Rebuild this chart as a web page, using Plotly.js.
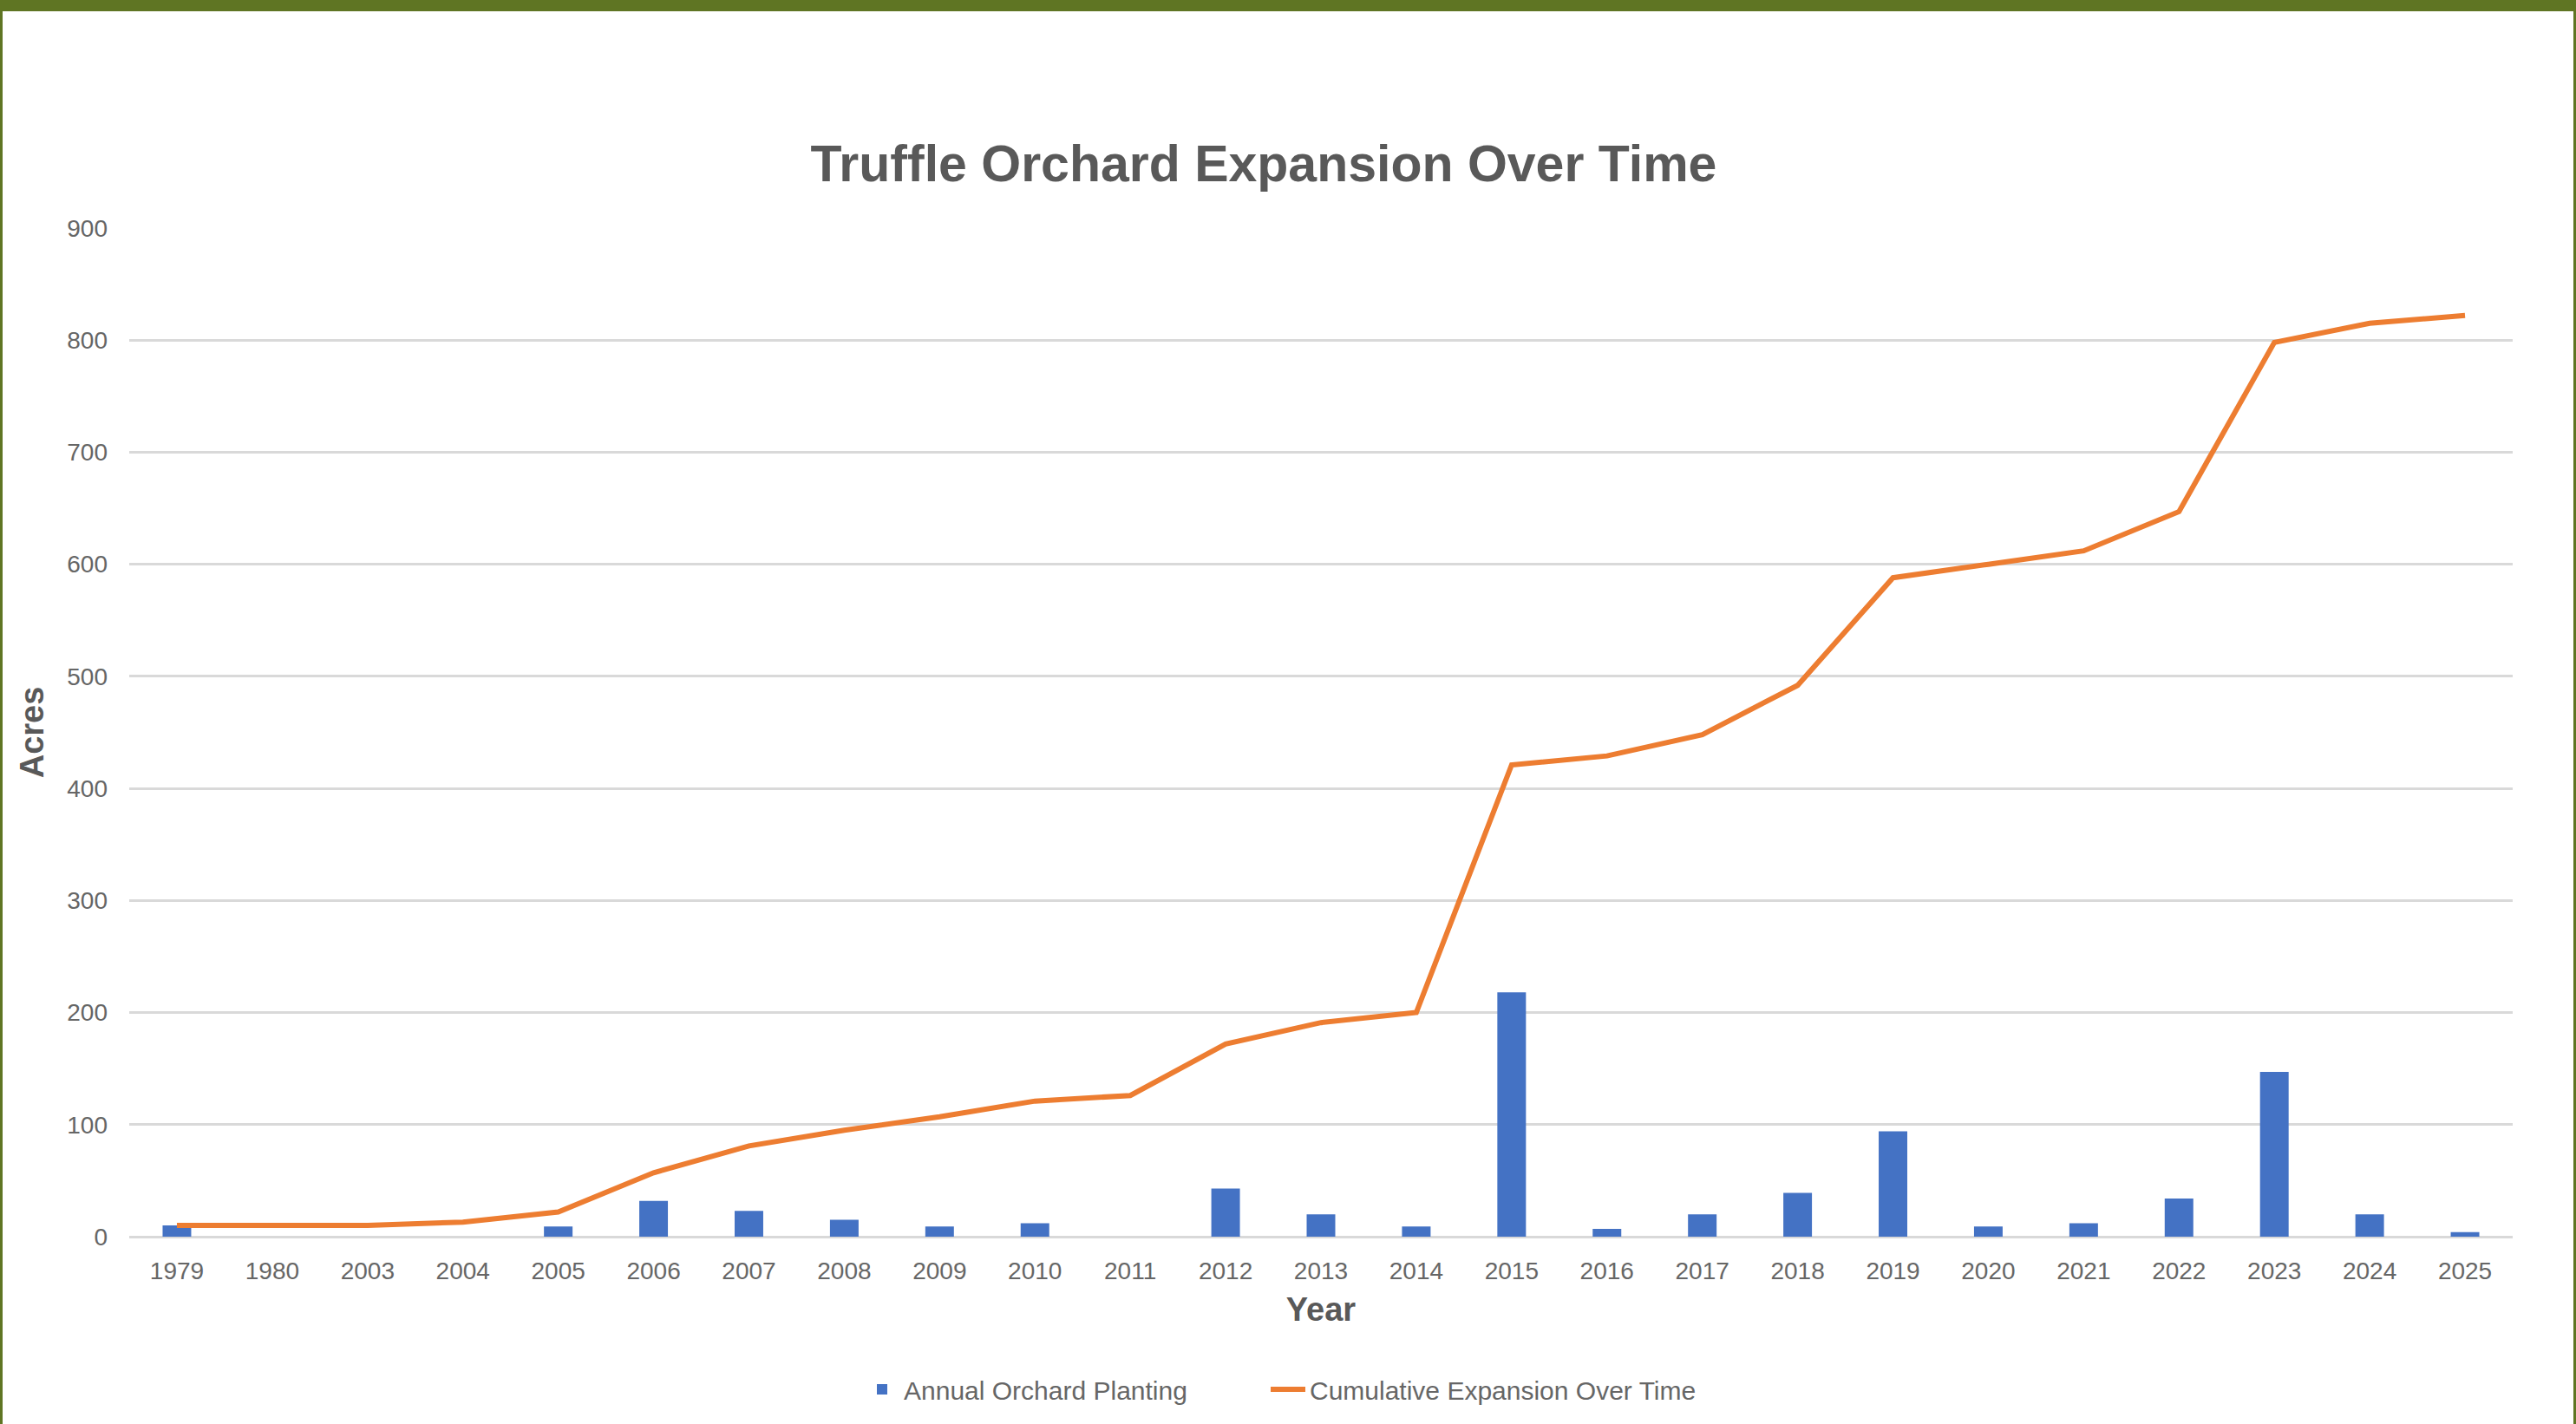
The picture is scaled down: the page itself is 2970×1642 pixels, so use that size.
<!DOCTYPE html>
<html>
<head>
<meta charset="utf-8">
<script src="https://cdn.plot.ly/plotly-3.0.1.min.js"></script>
<style>
  html, body { margin: 0; padding: 0; background: #ffffff; }
  #wrap { position: relative; width: 2970px; height: 1642px; overflow: hidden; }
  #chart { position: absolute; left: 0; top: 0; width: 2970px; height: 1642px; }
  #frame { position: absolute; left: 0; top: 0; width: 2970px; height: 1642px; box-sizing: border-box;
           border-top: 13px solid #5f7523; border-left: 3px solid #5f7523; border-right: 3px solid #5f7523;
           pointer-events: none; }
</style>
</head>
<body>
<div id="wrap">
  <div id="chart"></div>
  <div id="frame"></div>
</div>
<script>
// ---- data ----
const years = ['1979','1980','2003','2004','2005','2006','2007','2008','2009','2010','2011','2012','2013',
               '2014','2015','2016','2017','2018','2019','2020','2021','2022','2023','2024','2025'];
const annualPlanting = [10, 0, 0, 0, 9, 32, 23, 15, 9, 12, 0, 43, 20,
                        9, 218, 7, 20, 39, 94, 9, 12, 34, 147, 20, 4];
const cumulativeExpansion = [10, 10, 10, 13, 22, 57, 81, 95, 107, 121, 126, 172, 191,
                             200, 421, 429, 448, 492, 588, 600, 612, 647, 798, 815, 822];
const seriesNames = ['Annual Orchard Planting', 'Cumulative Expansion Over Time'];
const yTicks = [0, 100, 200, 300, 400, 500, 600, 700, 800, 900];

const FONT = '"Liberation Sans", Arial, Helvetica, sans-serif';

const traces = [
  {
    type: 'bar',
    name: seriesNames[0],
    x: years,
    y: annualPlanting,
    marker: { color: '#4472c4' },
    legend: 'legend',
    hoverinfo: 'x+y'
  },
  {
    type: 'scatter',
    mode: 'lines',
    name: seriesNames[1],
    x: years,
    y: cumulativeExpansion,
    line: { color: '#ed7d31', width: 6 },
    legend: 'legend2',
    hoverinfo: 'x+y'
  }
];

const legendBase = {
  orientation: 'h',
  xanchor: 'left',
  y: (1426 - 1602) / 1163,
  yanchor: 'middle',
  font: { family: FONT, size: 30, color: '#666666' },
  bgcolor: 'rgba(0,0,0,0)',
  itemwidth: 40
};

const layout = {
  width: 2970,
  height: 1642,
  paper_bgcolor: '#ffffff',
  plot_bgcolor: '#ffffff',
  margin: { l: 149, r: 73, t: 263, b: 216, pad: 0 },
  font: { family: FONT, color: '#666666', size: 28 },
  bargap: 0.7,
  title: {
    text: 'Truffle Orchard Expansion Over Time',
    font: { family: FONT, size: 59, color: '#595959', weight: 'bold' },
    x: 1457 / 2970,
    xanchor: 'center',
    xref: 'container',
    y: 1 - 188 / 1642,
    yref: 'container',
    yanchor: 'middle'
  },
  xaxis: {
    type: 'category',
    categoryorder: 'array',
    categoryarray: years,
    showgrid: false,
    zeroline: false,
    showline: false,
    ticks: '',
    ticklabelstandoff: 20,
    tickfont: { family: FONT, size: 28, color: '#666666' },
    title: {
      text: 'Year',
      font: { family: FONT, size: 38, color: '#595959', weight: 'bold' },
      standoff: 16
    },
    automargin: false
  },
  yaxis: {
    range: [0, 900],
    tickvals: yTicks,
    ticktext: yTicks.map(String),
    showgrid: true,
    gridcolor: '#d9d9d9',
    gridwidth: 3,
    zeroline: true,
    zerolinecolor: '#d9d9d9',
    zerolinewidth: 3,
    showline: false,
    ticks: '',
    ticklabelstandoff: 24,
    tickfont: { family: FONT, size: 28, color: '#666666' },
    title: {
      text: 'Acres',
      font: { family: FONT, size: 38, color: '#595959', weight: 'bold' },
      standoff: 14
    },
    automargin: false
  },
  showlegend: true,
  legend: Object.assign({}, legendBase, { x: (992 - 149) / 2748 }),
  legend2: Object.assign({}, legendBase, { x: (1460 - 149) / 2748 })
};

Plotly.newPlot('chart', traces, layout, { displayModeBar: false, staticPlot: true });
</script>
</body>
</html>
